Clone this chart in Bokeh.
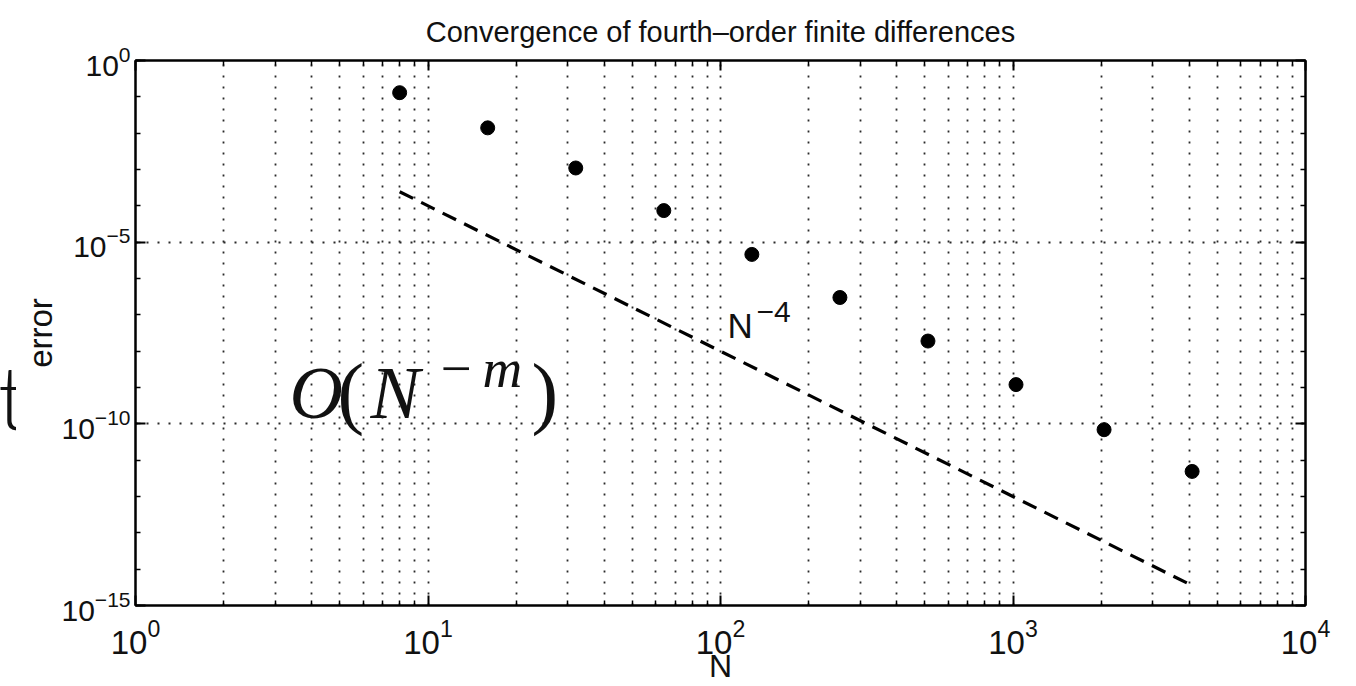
from bokeh.plotting import figure
from bokeh.layouts import row
from bokeh.models import (Range1d, FixedTicker, LogAxis, Label,
                          CustomJSTickFormatter, LogTickFormatter)
from bokeh.core.properties import value
from bokeh.embed import file_html
from bokeh.resources import INLINE

# ---- data ----
N = [8, 16, 32, 64, 128, 256, 512, 1024, 2048, 4096]
err = [1.3e-1, 1.4e-2, 1.1e-3, 7.4e-5, 4.6e-6, 3.0e-7, 1.9e-8, 1.2e-9, 6.9e-11, 4.9e-12]
ref_N = [8, 4096]
ref_err = [2.44e-4, 3.55e-15]

x_major = [1, 10, 100, 1000, 10000]
x_minor = [m * 10 ** k for k in range(4) for m in range(2, 10)]
y_major = [1e-15, 1e-10, 1e-5, 1.0]
y_minor = [10.0 ** -k for k in range(16)]

title_text = "Convergence of fourth\u2013order finite differences"
xlabel = "N"
ylabel = "error"
ref_label = ["N", "\u22124"]
side_text = "t"

SANS = "Liberation Sans"
SERIF = "Liberation Serif"
INK = "#111111"
GRID = "#2a2a2a"
STRIP = 16

# ---- narrow strip on the far left holding the clipped "t" ----
fig_t = figure(width=STRIP, height=686, x_range=Range1d(0, STRIP), y_range=Range1d(686, 0),
               x_axis_location=None, y_axis_location=None, toolbar_location=None,
               output_backend="svg", min_border=0)
fig_t.outline_line_color = None
fig_t.grid.visible = False
fig_t.background_fill_color = "white"
fig_t.border_fill_color = "white"
fig_t.text(x=[1], y=[422], text=[side_text], text_font=value("'Lato Light', Lato"),
           text_font_size=value("88px"), text_color=INK, text_align="left",
           text_baseline="alphabetic", x_offset=-4)

# ---- main chart ----
p = figure(width=1356 - STRIP, height=686, x_axis_type="log", y_axis_type="log",
           x_range=Range1d(1, 1e4), y_range=Range1d(1e-15, 1),
           output_backend="svg", toolbar_location=None,
           min_border_left=135 - STRIP, min_border_right=51,
           min_border_top=60, min_border_bottom=81)
p.background_fill_color = "white"
p.border_fill_color = "white"
p.outline_line_color = "black"
p.outline_line_width = 2

p.title.text = title_text
p.title.align = "center"
p.title.offset = 7
p.title.text_font = SANS
p.title.text_font_size = "29px"
p.title.text_font_style = "normal"
p.title.text_color = INK
p.title.standoff = 26

xt = FixedTicker(ticks=x_major, minor_ticks=x_minor)
yt = FixedTicker(ticks=y_major, minor_ticks=y_minor)


def style_axis(ax, ticker, labelled):
    ax.ticker = ticker
    ax.axis_line_color = "black"
    ax.axis_line_width = 2
    ax.major_tick_in = 10
    ax.major_tick_out = 0
    ax.minor_tick_in = 5
    ax.minor_tick_out = 0
    ax.major_tick_line_color = "black"
    ax.minor_tick_line_color = "black"
    ax.major_tick_line_width = 2
    ax.minor_tick_line_width = 1.5
    if labelled:
        ax.formatter = LogTickFormatter()
        ax.major_label_text_font = SANS
        ax.major_label_text_color = INK
        ax.axis_label_text_font = SANS
        ax.axis_label_text_font_style = "normal"
        ax.axis_label_text_color = INK
    else:
        ax.formatter = CustomJSTickFormatter(code="return '';")
        ax.major_label_text_font_size = "0px"
        ax.major_label_standoff = 0


xa = p.xaxis[0]
ya = p.yaxis[0]
style_axis(xa, xt, True)
style_axis(ya, yt, True)
xa.major_label_text_font_size = "33px"
xa.major_label_standoff = 13
xa.axis_label = xlabel
xa.axis_label_text_font_size = "32px"
xa.axis_label_standoff = -9
ya.major_label_text_font_size = "30px"
ya.major_label_standoff = 5
ya.axis_label = ylabel
ya.axis_label_text_font_size = "33px"
ya.axis_label_standoff = 0

top_ax = LogAxis()
right_ax = LogAxis()
style_axis(top_ax, xt, False)
style_axis(right_ax, yt, False)
p.add_layout(top_ax, "above")
p.add_layout(right_ax, "right")

for g, t in ((p.xgrid, xt), (p.ygrid, yt)):
    g.ticker = t
    g.grid_line_color = GRID
    g.grid_line_dash = "2 9"
    g.grid_line_width = 1.8
p.xgrid.minor_grid_line_color = GRID
p.xgrid.minor_grid_line_dash = "2 9"
p.xgrid.minor_grid_line_width = 1.8
p.ygrid.minor_grid_line_color = None

p.line(ref_N, ref_err, line_color="black", line_width=3.2, line_dash="15 9")
p.scatter(N, err, size=14, color="black")


def lab(text, dx, dy, size, font=SANS, style="normal"):
    # anchored at the top-left corner of the plot frame, offsets in pixels
    p.add_layout(Label(x=1, y=1.0, x_offset=dx, y_offset=dy, text=text,
                       text_font=font, text_font_size=f"{size}px",
                       text_font_style=style, text_align="left",
                       text_baseline="alphabetic", text_color=INK))


# N^-4 annotation
lab(ref_label[0], 592, -265, 35)
lab(ref_label[1], 621, -251, 30)

# O(N^{-m}) overlay
lab("O", 154, -332, 74, font=SERIF, style="italic")
lab("(", 202, -331, 80, font=SERIF)
lab("N", 235, -332, 74, font=SERIF, style="italic")
lab("\u2212", 305, -308, 55, font=SERIF)
lab("m", 347, -308, 55, font=SERIF, style="italic")
lab(")", 396, -331, 80, font=SERIF)

layout = row(fig_t, p, spacing=0)
open("out.html", "w").write(file_html(layout, INLINE))
